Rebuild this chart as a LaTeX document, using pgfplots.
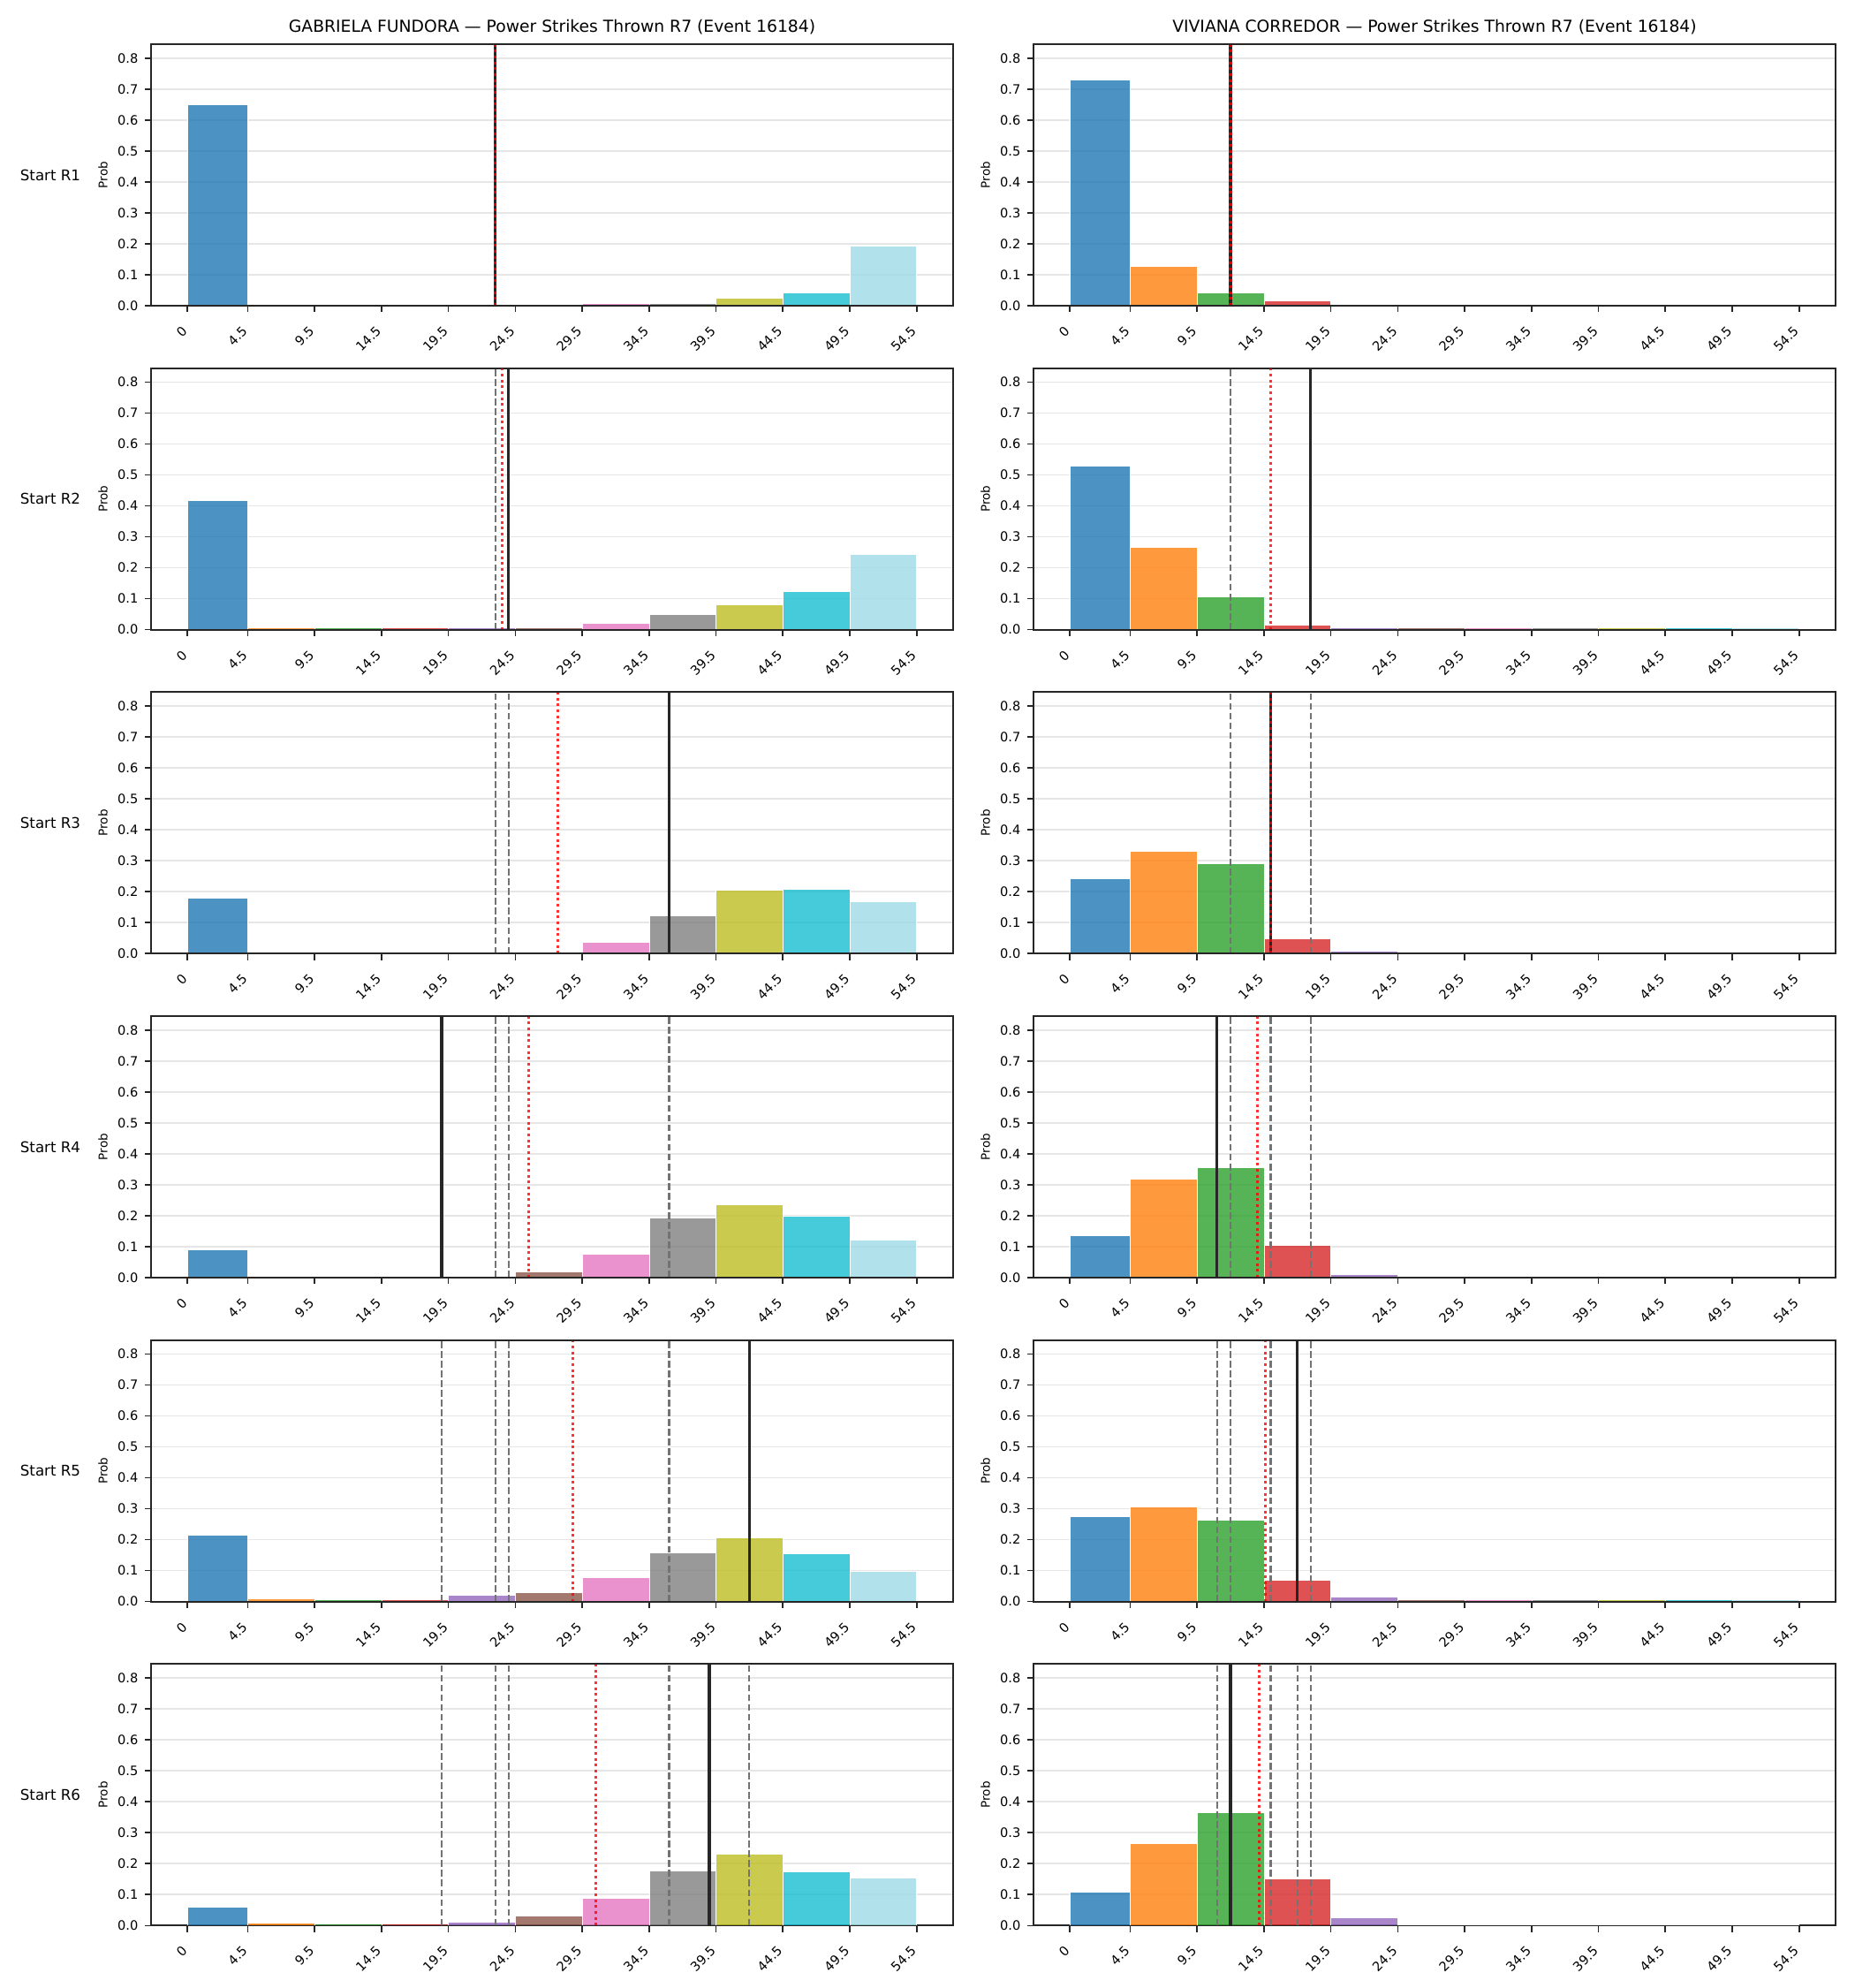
\documentclass[border=0pt]{standalone}
\usepackage{fontspec}
\setmainfont{DejaVu Sans}
\usepackage{pgfplots}
\usepackage{pgfplotstable}
\pgfplotsset{compat=1.18}

% bar colours, one per bin
\definecolor{bc0}{HTML}{1F77B4}
\definecolor{bc1}{HTML}{FF7F0E}
\definecolor{bc2}{HTML}{2CA02C}
\definecolor{bc3}{HTML}{D62728}
\definecolor{bc4}{HTML}{9467BD}
\definecolor{bc5}{HTML}{8C564B}
\definecolor{bc6}{HTML}{E377C2}
\definecolor{bc7}{HTML}{7F7F7F}
\definecolor{bc8}{HTML}{BCBD22}
\definecolor{bc9}{HTML}{17BECF}
\definecolor{bc10}{HTML}{9EDAE5}
\definecolor{gridc}{RGB}{230,230,230}
\definecolor{spine}{HTML}{262626}

% probability of each bin, per fighter (g = Fundora, v = Corredor) and start round
\pgfplotstableread{
lo   hi   g1    g2    g3    g4    g5    g6    v1    v2    v3    v4    v5    v6
0    4.5  0.651 0.417 0.179 0.092 0.214 0.059 0.731 0.530 0.243 0.137 0.274 0.110
4.5  9.5  0.005 0.007 0.005 0.005 0.010 0.010 0.128 0.267 0.332 0.320 0.308 0.266
9.5  14.5 0.005 0.007 0.005 0.005 0.008 0.005 0.042 0.108 0.291 0.355 0.265 0.365
14.5 19.5 0.005 0.007 0.005 0.005 0.008 0.005 0.016 0.014 0.048 0.106 0.069 0.152
19.5 24.5 0.005 0.007 0.005 0.005 0.020 0.013 0.005 0.007 0.008 0.011 0.014 0.025
24.5 29.5 0.005 0.007 0.005 0.020 0.029 0.033 0.005 0.007 0.005 0.005 0.007 0.003
29.5 34.5 0.007 0.020 0.038 0.077 0.077 0.088 0.005 0.007 0.005 0.005 0.007 0.002
34.5 39.5 0.008 0.051 0.122 0.194 0.157 0.177 0.005 0.007 0.005 0.005 0.007 0.002
39.5 44.5 0.025 0.080 0.205 0.237 0.206 0.231 0.005 0.007 0.005 0.005 0.007 0.002
44.5 49.5 0.042 0.123 0.210 0.200 0.154 0.174 0.005 0.007 0.005 0.005 0.007 0.002
49.5 54.5 0.194 0.245 0.168 0.122 0.097 0.153 0.005 0.007 0.005 0.005 0.007 0.002
}\probs

\pgfplotsset{
  panel/.style={
    scale only axis, width=435.84pt, height=142.08pt,
    xmin=-2.725, xmax=57.225, ymin=0, ymax=0.845,
    xtick={0,4.5,9.5,14.5,19.5,24.5,29.5,34.5,39.5,44.5,49.5,54.5},
    xticklabels={0,4.5,9.5,14.5,19.5,24.5,29.5,34.5,39.5,44.5,49.5,54.5},
    ytick={0,0.1,0.2,0.3,0.4,0.5,0.6,0.7,0.8},
    yticklabels={0.0,0.1,0.2,0.3,0.4,0.5,0.6,0.7,0.8},
    tick pos=left, tick align=outside, major tick length=3.5pt,
    tick style={color=spine, line width=0.8pt},
    axis line style={color=spine, line width=1pt},
    ymajorgrids, major grid style={color=gridc, line width=0.8pt},
    tick label style={font=\fontsize{7}{8}\selectfont},
    xticklabel style={xshift=-3.5pt, yshift=-5.5pt, rotate=45, anchor=north east, inner sep=1pt},
    ylabel={Prob},
    every axis y label/.style={at={(axis description cs:-0.06,0.5)}, rotate=90,
      anchor=center, font=\fontsize{6.5}{7.5}\selectfont},
  },
  histbar/.style={fill opacity=0.8, draw=white, line width=0.25pt},
  prev/.style={color=black!55, line width=1pt, dash pattern=on 3.7pt off 1.6pt},
  cur/.style={color=spine, line width=1.5pt},
  avg/.style={color=red, opacity=0.8, line width=1.5pt, dash pattern=on 1.5pt off 1.7pt},
}

% draw the eleven bins of one column of \probs
\newcommand\histbars[1]{%
  \foreach \k in {0,...,10}{%
    \pgfplotstablegetelem{\k}{lo}\of\probs \let\lo\pgfplotsretval
    \pgfplotstablegetelem{\k}{hi}\of\probs \let\hi\pgfplotsretval
    \pgfplotstablegetelem{\k}{#1}\of\probs \let\h\pgfplotsretval
    \edef\tmp{\noexpand\addplot[histbar, fill=bc\k] coordinates {(\lo,\h) (\hi,\h)} \noexpand\closedcycle;}%
    \tmp
  }%
}
\newcommand\vmark[2]{\addplot[#1] coordinates {(#2,0) (#2,0.845)};}
% frame drawn again over the bars and lines
\newcommand\frameontop{\draw[color=spine, line width=0.8pt] (rel axis cs:0,0) rectangle (rel axis cs:1,1);}

\begin{document}
\begin{tikzpicture}
\useasboundingbox (0,0) rectangle (1008pt,1080pt);

% ---------- GABRIELA FUNDORA ----------
\begin{axis}[panel, at={(82.08pt,913.92pt)}, anchor=south west]
\histbars{g1}
\vmark{cur}{23}
\vmark{avg}{23}
\frameontop
\end{axis}

\begin{axis}[panel, at={(82.08pt,737.92pt)}, anchor=south west]
\histbars{g2}
\vmark{prev}{23}
\vmark{cur}{24}
\vmark{avg}{23.5}
\frameontop
\end{axis}

\begin{axis}[panel, at={(82.08pt,561.92pt)}, anchor=south west]
\histbars{g3}
\vmark{prev}{23}\vmark{prev}{24}
\vmark{cur}{36}
\vmark{avg}{27.67}
\frameontop
\end{axis}

\begin{axis}[panel, at={(82.08pt,385.92pt)}, anchor=south west]
\histbars{g4}
\vmark{prev}{23}\vmark{prev}{24}\vmark{prev}{36}
\vmark{cur}{19}
\vmark{avg}{25.5}
\frameontop
\end{axis}

\begin{axis}[panel, at={(82.08pt,209.92pt)}, anchor=south west]
\histbars{g5}
\vmark{prev}{23}\vmark{prev}{24}\vmark{prev}{36}\vmark{prev}{19}
\vmark{cur}{42}
\vmark{avg}{28.8}
\frameontop
\end{axis}

\begin{axis}[panel, at={(82.08pt,33.92pt)}, anchor=south west]
\histbars{g6}
\vmark{prev}{23}\vmark{prev}{24}\vmark{prev}{36}\vmark{prev}{19}\vmark{prev}{42}
\vmark{cur}{39}
\vmark{avg}{30.5}
\frameontop
\end{axis}

% ---------- VIVIANA CORREDOR ----------
\begin{axis}[panel, at={(561.6pt,913.92pt)}, anchor=south west]
\histbars{v1}
\vmark{cur}{12}
\vmark{avg}{12}
\frameontop
\end{axis}

\begin{axis}[panel, at={(561.6pt,737.92pt)}, anchor=south west]
\histbars{v2}
\vmark{prev}{12}
\vmark{cur}{18}
\vmark{avg}{15}
\frameontop
\end{axis}

\begin{axis}[panel, at={(561.6pt,561.92pt)}, anchor=south west]
\histbars{v3}
\vmark{prev}{12}\vmark{prev}{18}
\vmark{cur}{15}
\vmark{avg}{15}
\frameontop
\end{axis}

\begin{axis}[panel, at={(561.6pt,385.92pt)}, anchor=south west]
\histbars{v4}
\vmark{prev}{12}\vmark{prev}{18}\vmark{prev}{15}
\vmark{cur}{11}
\vmark{avg}{14}
\frameontop
\end{axis}

\begin{axis}[panel, at={(561.6pt,209.92pt)}, anchor=south west]
\histbars{v5}
\vmark{prev}{12}\vmark{prev}{18}\vmark{prev}{15}\vmark{prev}{11}
\vmark{cur}{17}
\vmark{avg}{14.6}
\frameontop
\end{axis}

\begin{axis}[panel, at={(561.6pt,33.92pt)}, anchor=south west]
\histbars{v6}
\vmark{prev}{12}\vmark{prev}{18}\vmark{prev}{15}\vmark{prev}{11}\vmark{prev}{17}
\vmark{cur}{12}
\vmark{avg}{14.17}
\frameontop
\end{axis}

% column titles
\begin{scope}[every node/.style={font=\fontsize{9}{10.5}\selectfont, anchor=base}]
\node at (300pt,1062.5pt) {GABRIELA FUNDORA — Power Strikes Thrown R7 (Event 16184)};
\node at (779.52pt,1062.5pt) {VIVIANA CORREDOR — Power Strikes Thrown R7 (Event 16184)};
\end{scope}

% row labels
\begin{scope}[every node/.style={font=\fontsize{8}{9.6}\selectfont, anchor=center}]
\node at (27.36pt,984.96pt) {Start R1};
\node at (27.36pt,808.96pt) {Start R2};
\node at (27.36pt,632.96pt) {Start R3};
\node at (27.36pt,456.96pt) {Start R4};
\node at (27.36pt,280.96pt) {Start R5};
\node at (27.36pt,104.96pt) {Start R6};
\end{scope}
\end{tikzpicture}
\end{document}
